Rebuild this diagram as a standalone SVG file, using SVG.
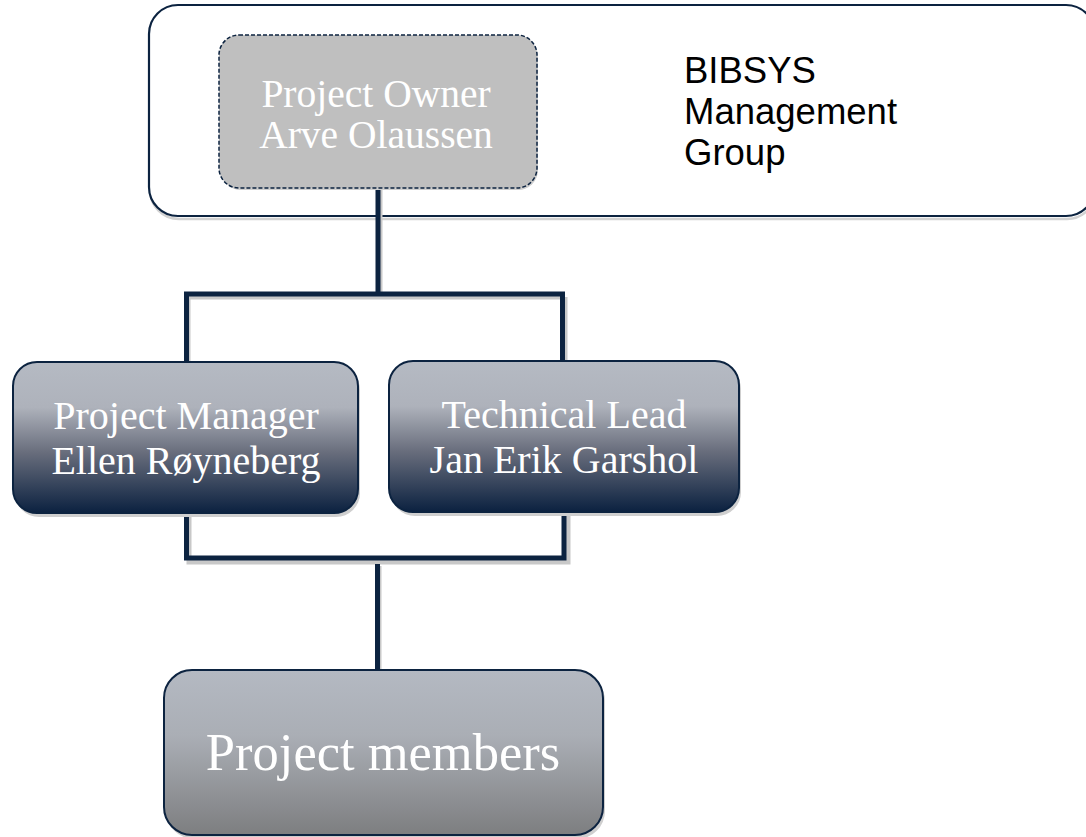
<svg xmlns="http://www.w3.org/2000/svg" width="1086" height="837" viewBox="0 0 1086 837">
<style>
.node-text{font-family:"Liberation Serif","Times New Roman",serif;fill:#ffffff;text-anchor:middle}
.label{font-family:"Liberation Sans",Arial,sans-serif;fill:#000000;font-size:36.5px}
.conn{fill:none;stroke:#0c2340;stroke-width:5;stroke-linejoin:miter;stroke-linecap:butt}
.conn-shadow{fill:none;stroke:#c8c8c8;stroke-width:5}
.shadow{fill:#cfcfcf}
</style>
<defs>
<linearGradient id="gDark" x1="0" y1="0" x2="0" y2="1">
<stop offset="0" stop-color="#b5bac3"/>
<stop offset="0.3" stop-color="#aeb2bb"/>
<stop offset="0.6" stop-color="#686d7c"/>
<stop offset="1" stop-color="#0b2140"/>
</linearGradient>
<linearGradient id="gGray" x1="0" y1="0" x2="0" y2="1">
<stop offset="0" stop-color="#b4b9c2"/>
<stop offset="0.4" stop-color="#aaaeb5"/>
<stop offset="1" stop-color="#7d7e80"/>
</linearGradient>
</defs>

<g id="mgmt-group">
<rect x="150" y="8" width="946" height="211" rx="29" fill="none" stroke="#d2d2d2" stroke-width="2.5"/>
<rect x="149" y="5" width="946" height="211" rx="29" fill="#ffffff" stroke="#0c2340" stroke-width="2.2"/>
<text class="label" x="684" y="83">BIBSYS</text>
<text class="label" x="684" y="124">Management</text>
<text class="label" x="684" y="165">Group</text>
</g>

<g id="connectors">
<path class="conn-shadow" d="M380 190 V297 M186 297 H565 M188 298 V366 M565 297 V366 M189 516 V562 H568 V516 M379 566 V672"/>
<path class="conn" d="M378 186 V294 M184 294 H565 M186.5 291.5 V362 M562.5 291.5 V362 M186.5 512 V558 H564 V512 M377.5 564 V671"/>
</g>

<g id="owner">
<rect class="shadow" x="221" y="38" width="317" height="152" rx="20"/>
<rect x="219" y="35" width="318" height="153" rx="20" fill="#bfbfbf" stroke="#0c2340" stroke-width="1.5" stroke-dasharray="4 2"/>
<text class="node-text" x="376" y="107" font-size="39.5">Project Owner</text>
<text class="node-text" x="376" y="148" font-size="39.5">Arve Olaussen</text>
</g>

<g id="manager">
<rect class="shadow" x="15" y="366" width="345" height="151" rx="24"/>
<rect x="13" y="362" width="345" height="151" rx="24" fill="url(#gDark)" stroke="#0c2340" stroke-width="2"/>
<text class="node-text" x="186" y="429" font-size="40">Project Manager</text>
<text class="node-text" x="186" y="474" font-size="40">Ellen Røyneberg</text>
</g>

<g id="techlead">
<rect class="shadow" x="391" y="365" width="350" height="151" rx="24"/>
<rect x="389" y="361" width="350" height="151" rx="24" fill="url(#gDark)" stroke="#0c2340" stroke-width="2"/>
<text class="node-text" x="564" y="428" font-size="40">Technical Lead</text>
<text class="node-text" x="564" y="473" font-size="40">Jan Erik Garshol</text>
</g>

<g id="members">
<rect class="shadow" x="166" y="673" width="439" height="166" rx="28"/>
<rect x="164" y="670" width="439" height="165" rx="28" fill="url(#gGray)" stroke="#0c2340" stroke-width="2"/>
<text class="node-text" x="383" y="770" font-size="52.5">Project members</text>
</g>
</svg>
